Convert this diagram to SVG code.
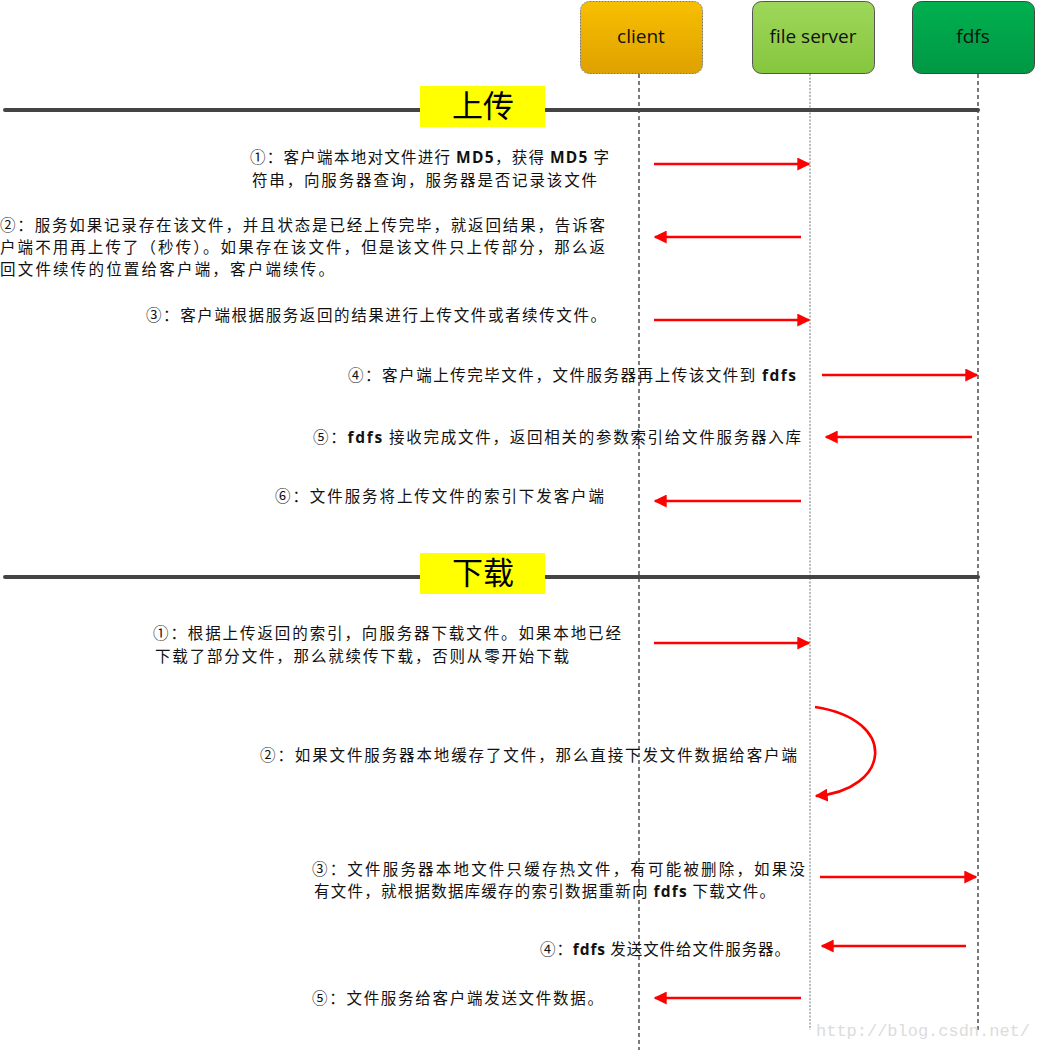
<svg xmlns="http://www.w3.org/2000/svg" width="1038" height="1050" viewBox="0 0 1038 1050">
<defs>
<linearGradient id="gClient" x1="0" y1="0" x2="0" y2="1"><stop offset="0" stop-color="#f8bf00"/><stop offset="1" stop-color="#dea100"/></linearGradient>
<linearGradient id="gServer" x1="0" y1="0" x2="0" y2="1"><stop offset="0" stop-color="#9ed75a"/><stop offset="1" stop-color="#86c63e"/></linearGradient>
<linearGradient id="gFdfs" x1="0" y1="0" x2="0" y2="1"><stop offset="0" stop-color="#00b04f"/><stop offset="1" stop-color="#009844"/></linearGradient>
<marker id="ah" viewBox="0 0 10 10" refX="9" refY="5" markerWidth="5" markerHeight="5" orient="auto" markerUnits="strokeWidth">
<path d="M0,0 L10,5 L0,10 z" fill="#ff0000"/>
</marker>
<style>
.lbl{font-family:"Open Sans","Liberation Sans",sans-serif;font-size:19px;fill:#111;text-anchor:middle}
.t{font-family:"Noto Sans CJK SC","Noto Sans",sans-serif;font-size:15.5px;fill:#111}
.b{font-family:"Open Sans","Liberation Sans",sans-serif;font-weight:bold}
.sec{font-family:"Noto Sans CJK SC",sans-serif;font-size:31px;fill:#000;text-anchor:middle}
.arr{stroke:#ff0000;stroke-width:2.6;fill:none;marker-end:url(#ah)}
.life{stroke:#222;stroke-width:1.2;stroke-dasharray:4,3;fill:none}
.life2{stroke:#777;stroke-width:1;stroke-dasharray:2,1.5;fill:none}
.bar{stroke:#444;stroke-width:4;stroke-linecap:round}
</style>
</defs>
<rect width="1038" height="1050" fill="#fff"/>

<g id="lifelines">
<line class="life" x1="639" y1="74" x2="639" y2="1050"/>
<line class="life2" x1="810" y1="74" x2="810" y2="1030"/>
<line class="life" x1="978" y1="74" x2="978" y2="1030"/>
</g>

<g id="client"><rect x="580.5" y="1.5" width="122" height="72" rx="9" fill="url(#gClient)" stroke="#777" stroke-width="1" stroke-dasharray="2,1"/><text class="lbl" x="641" y="43">client</text></g>
<g id="fileserver"><rect x="752.5" y="1.5" width="122" height="72" rx="9" fill="url(#gServer)" stroke="#555" stroke-width="1"/><text class="lbl" x="813" y="43">file server</text></g>
<g id="fdfs"><rect x="912.5" y="1.5" width="122" height="72" rx="9" fill="url(#gFdfs)" stroke="#444" stroke-width="1"/><text class="lbl" x="973" y="43">fdfs</text></g>

<g id="sec-upload">
<line class="bar" x1="5" y1="110" x2="978" y2="110"/>
<rect x="420" y="86" width="125" height="41" fill="#ffff00"/>
<text class="sec" x="483" y="117">上传</text>
</g>
<g id="sec-download">
<line class="bar" x1="5" y1="577" x2="978" y2="577"/>
<rect x="420" y="553" width="125" height="41" fill="#ffff00"/>
<text class="sec" x="483" y="584">下载</text>
</g>

<g id="connectors">
<line class="arr" x1="654" y1="164" x2="809" y2="164"/>
<line class="arr" x1="801" y1="237" x2="655" y2="237"/>
<line class="arr" x1="654" y1="320" x2="809" y2="320"/>
<line class="arr" x1="822" y1="375" x2="977" y2="375"/>
<line class="arr" x1="972" y1="437" x2="826" y2="437"/>
<line class="arr" x1="801" y1="501" x2="655" y2="501"/>
<line class="arr" x1="654" y1="643" x2="809" y2="643"/>
<path class="arr" d="M815,707 C900,720 890,790 816,796"/>
<line class="arr" x1="820" y1="877" x2="976" y2="877"/>
<line class="arr" x1="966" y1="946" x2="822" y2="946"/>
<line class="arr" x1="801" y1="998" x2="655" y2="998"/>
</g>

<g id="texts">
<text class="t" x="250" y="163" textLength="359">①：客户端本地对文件进行 <tspan class="b">MD5</tspan>，获得 <tspan class="b">MD5</tspan> 字</text>
<text class="t" x="252" y="186" textLength="345">符串，向服务器查询，服务器是否记录该文件</text>
<text class="t" x="0" y="231" textLength="605">②：服务如果记录存在该文件，并且状态是已经上传完毕，就返回结果，告诉客</text>
<text class="t" x="0" y="253" textLength="605">户端不用再上传了（秒传）。如果存在该文件，但是该文件只上传部分，那么返</text>
<text class="t" x="0" y="275" textLength="334">回文件续传的位置给客户端，客户端续传。</text>
<text class="t" x="146" y="321" textLength="460">③：客户端根据服务返回的结果进行上传文件或者续传文件。</text>
<text class="t" x="348" y="381" textLength="448">④：客户端上传完毕文件，文件服务器再上传该文件到 <tspan class="b">fdfs</tspan></text>
<text class="t" x="313" y="443" textLength="488">⑤：<tspan class="b">fdfs</tspan> 接收完成文件，返回相关的参数索引给文件服务器入库</text>
<text class="t" x="275" y="502" textLength="329">⑥：文件服务将上传文件的索引下发客户端</text>
<text class="t" x="153" y="639" textLength="468">①：根据上传返回的索引，向服务器下载文件。如果本地已经</text>
<text class="t" x="155" y="662" textLength="414">下载了部分文件，那么就续传下载，否则从零开始下载</text>
<text class="t" x="260" y="761" textLength="537">②：如果文件服务器本地缓存了文件，那么直接下发文件数据给客户端</text>
<text class="t" x="312" y="875" textLength="493">③：文件服务器本地文件只缓存热文件，有可能被删除，如果没</text>
<text class="t" x="314" y="897" textLength="461">有文件，就根据数据库缓存的索引数据重新向 <tspan class="b">fdfs</tspan> 下载文件。</text>
<text class="t" x="540" y="955" textLength="250">④：<tspan class="b">fdfs</tspan> 发送文件给文件服务器。</text>
<text class="t" x="312" y="1004" textLength="291">⑤：文件服务给客户端发送文件数据。</text>
<text x="816" y="1036" font-family="Liberation Mono,monospace" font-size="17" fill="#dcdcdc" textLength="214">http://blog.csdn.net/</text>
</g>
</svg>
